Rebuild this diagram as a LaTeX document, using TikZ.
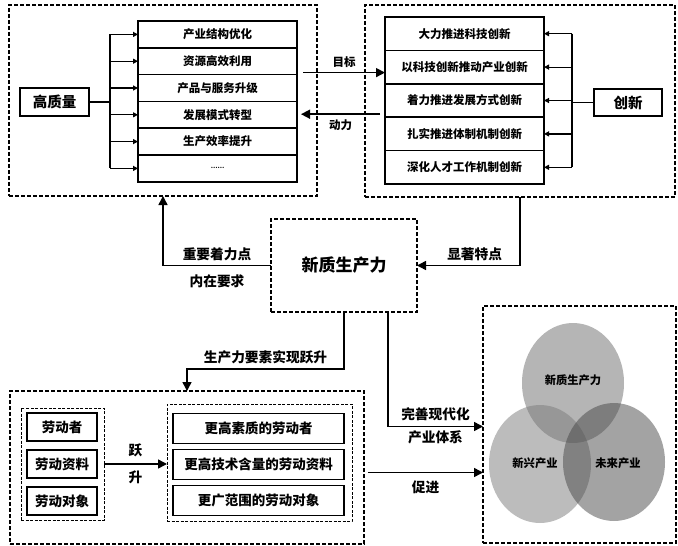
\documentclass[tikz,border=0pt]{standalone}
\usepackage{fontspec}
\setmainfont{Noto Sans CJK SC}
\usepackage{tikz}
\usepackage{xcolor}
\usetikzlibrary{positioning,arrows.meta}
\definecolor{venn-top}{gray}{0.42}
\definecolor{venn-left}{gray}{0.48}
\definecolor{venn-right}{gray}{0.28}
\tikzset{
    dash-frame/.style = {draw, line width=1.3pt, dash pattern=on 4pt off 2pt, rectangle, inner sep=0pt, outer sep=0pt},
    dash-frame-thin/.style = {draw, line width=0.9pt, dash pattern=on 3pt off 1.5pt, rectangle, inner sep=0pt, outer sep=0pt},
    item-box/.style = {draw, line width=1.5pt, fill=white, rectangle, inner sep=0pt, outer sep=0pt, minimum width=159pt, font=\bfseries\fontsize{11.5}{13}\selectfont},
    key-box/.style = {draw, line width=1.6pt, fill=white, rectangle, inner sep=0pt, outer sep=0pt, font=\bfseries\fontsize{14.5}{16}\selectfont},
    lab-box/.style = {draw, line width=1.5pt, rectangle, inner sep=0pt, outer sep=0pt, font=\bfseries\fontsize{13.5}{15}\selectfont},
    link/.style = {line width=1.5pt},
    link-arrow/.style = {line width=1.5pt, -{Triangle[length=9pt, width=9pt]}},
    branch-arrow/.style = {line width=1.2pt, -{Triangle[length=5pt, width=5pt]}},
    link-text/.style = {inner sep=1pt, font=\bfseries\fontsize{13.7}{15}\selectfont},
    small-text/.style = {inner sep=1pt, font=\bfseries\fontsize{11.5}{13}\selectfont},
    venn-text/.style = {inner sep=1pt, font=\bfseries\fontsize{11.3}{13}\selectfont},
}
\begin{document}
\begin{tikzpicture}[x=1pt, y=-1pt]
\useasboundingbox (0,0) rectangle (678,546);
% frames
\node [dash-frame, minimum width=308pt, minimum height=191pt] (frame-hq) at (163,100.5) {};
\node [dash-frame, minimum width=310pt, minimum height=192pt] (frame-cx) at (520,101) {};
\node [dash-frame, minimum width=354pt, minimum height=153pt] (frame-lab) at (187,467.5) {};
\node [dash-frame, minimum width=193pt, minimum height=237pt] (frame-ind) at (579.5,424.5) {};
\node [dash-frame-thin, minimum width=83pt, minimum height=112pt] (frame-old) at (62.5,464) {};
\node [dash-frame-thin, minimum width=185pt, minimum height=117pt] (frame-new) at (259.5,462.5) {};

% high quality
\node [item-box, minimum height=26.8pt] (hq-1) at (217.5,34.4) {产业结构优化};
\node [item-box, minimum height=26.8pt, below=0pt of hq-1] (hq-2) {资源高效利用};
\node [item-box, minimum height=26.8pt, below=0pt of hq-2] (hq-3) {产品与服务升级};
\node [item-box, minimum height=26.8pt, below=0pt of hq-3] (hq-4) {发展模式转型};
\node [item-box, minimum height=26.8pt, below=0pt of hq-4] (hq-5) {生产效率提升};
\node [item-box, minimum height=26.8pt, below=0pt of hq-5, font=\bfseries\fontsize{6}{7}\selectfont] (hq-6) {……};
\node [key-box, minimum width=69pt, minimum height=28pt] (hq) at (54.5,102) {高质量};
\draw [link] (hq.east) -- ++(21,0) coordinate (hq-fork);
\draw [link] (hq-fork |- hq-1) -- (hq-fork |- hq-6);
\draw [branch-arrow] (hq-fork |- hq-1) -- (hq-1.west);
\draw [branch-arrow] (hq-fork |- hq-2) -- (hq-2.west);
\draw [branch-arrow] (hq-fork |- hq-3) -- (hq-3.west);
\draw [branch-arrow] (hq-fork |- hq-4) -- (hq-4.west);
\draw [branch-arrow] (hq-fork |- hq-5) -- (hq-5.west);
\draw [branch-arrow] (hq-fork |- hq-6) -- (hq-6.west);

% innovation
\node [item-box, minimum height=33.4pt] (cx-1) at (464.5,33.7) {大力推进科技创新};
\node [item-box, minimum height=33.4pt, below=0pt of cx-1] (cx-2) {以科技创新推动产业创新};
\node [item-box, minimum height=33.4pt, below=0pt of cx-2] (cx-3) {着力推进发展方式创新};
\node [item-box, minimum height=33.4pt, below=0pt of cx-3] (cx-4) {扎实推进体制机制创新};
\node [item-box, minimum height=33.4pt, below=0pt of cx-4] (cx-5) {深化人才工作机制创新};
\node [key-box, minimum width=68pt, minimum height=27pt] (cx) at (628,102.5) {创新};
\draw [link] (cx.west) -- ++(-22,0) coordinate (cx-fork);
\draw [link] (cx-fork |- cx-1) -- (cx-fork |- cx-5);
\draw [branch-arrow] (cx-fork |- cx-1) -- (cx-1.east);
\draw [branch-arrow] (cx-fork |- cx-2) -- (cx-2.east);
\draw [branch-arrow] (cx-fork |- cx-3) -- (cx-3.east);
\draw [branch-arrow] (cx-fork |- cx-4) -- (cx-4.east);
\draw [branch-arrow] (cx-fork |- cx-5) -- (cx-5.east);

\draw [link-arrow] ([xshift=6pt,yshift=2pt]hq-2.south east) coordinate (goal-start) -- (goal-start -| cx-2.west)
    node [small-text, midway, above=3pt] {目标};
\draw [link-arrow] ([xshift=-5pt,yshift=3pt]cx-3.south west) coordinate (drive-start) -- ([xshift=4pt]drive-start -| hq-4.east)
    node [small-text, midway, below=4pt] {动力};

% new productive forces
\node [dash-frame, minimum width=146pt, minimum height=93pt, font=\bfseries\fontsize{17}{19}\selectfont] (np) at (344,265.5) {新质生产力};
\draw [link-arrow] (np.west) -| (frame-hq.south)
    node [link-text, pos=0.25, above=3pt] {重要着力点}
    node [link-text, pos=0.25, below=7pt] {内在要求};
\draw [link-arrow] (frame-cx.south) |- (np.east)
    node [link-text, pos=0.72, above=3pt] {显著特点};
\draw [link-arrow] (np.south) -- ++(0,57) -| (frame-lab.north)
    node [link-text, pos=0.25, above=3pt] {生产力要素实现跃升};
\draw [link-arrow] ([xshift=44pt]np.south) |- ([yshift=-2pt]frame-ind.west)
    node [link-text, pos=0.75, above=4pt] {完善现代化}
    node [link-text, pos=0.75, below=2pt] {产业体系};

% labour elements
\node [lab-box, minimum width=70pt, minimum height=28pt] (lab-1) at (62,427) {劳动者};
\node [lab-box, minimum width=70pt, minimum height=28pt, below=9pt of lab-1] (lab-2) {劳动资料};
\node [lab-box, minimum width=70pt, minimum height=28pt, below=9pt of lab-2] (lab-3) {劳动对象};
\node [lab-box, minimum width=171pt, minimum height=30pt] (new-1) at (258.5,428.5) {更高素质的劳动者};
\node [lab-box, minimum width=171pt, minimum height=30pt, below=6pt of new-1] (new-2) {更高技术含量的劳动资料};
\node [lab-box, minimum width=171pt, minimum height=30pt, below=6pt of new-2] (new-3) {更广范围的劳动对象};
\draw [link-arrow] (frame-old.east) -- (frame-old.east -| frame-new.west)
    node [link-text, midway, above=5pt] {跃}
    node [link-text, midway, below=5pt] {升};
\draw [link-arrow] ([xshift=4pt,yshift=-5pt]frame-lab.east) coordinate (push-start) -- (push-start -| frame-ind.west)
    node [link-text, midway, below=7pt] {促进};

% industries
\fill [venn-top, fill opacity=0.5] (573,383) ellipse [x radius=51, y radius=60];
\fill [venn-left, fill opacity=0.5] (540,464) ellipse [x radius=51, y radius=59];
\fill [venn-right, fill opacity=0.5] (614,462) ellipse [x radius=51, y radius=59];
\node [venn-text] (venn-np) at (573,380) {新质生产力};
\node [venn-text] (venn-new) at (535,463) {新兴产业};
\node [venn-text] (venn-future) at (618,463) {未来产业};
\end{tikzpicture}
\end{document}
